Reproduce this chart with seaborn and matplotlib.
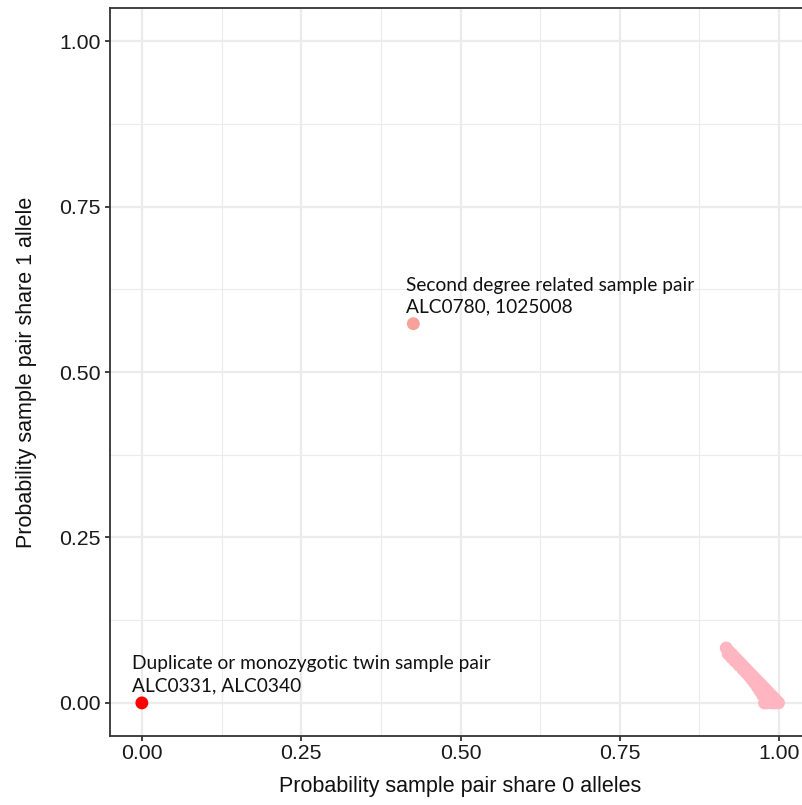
import matplotlib
matplotlib.use("Agg")
import matplotlib.pyplot as plt
from matplotlib.ticker import MultipleLocator
import seaborn as sns
import pandas as pd

# IBD estimates per sample pair: Z0 = P(share 0 alleles), Z1 = P(share 1 allele)
twin_z0 = [0.000]
twin_z1 = [0.000]

second_z0 = [0.426]
second_z1 = [0.573]

unrelated_z0 = [0.917, 0.921, 0.925, 0.928, 0.932, 0.936, 0.939, 0.942, 0.946,
                0.949, 0.952, 0.955, 0.958, 0.961, 0.964, 0.967, 0.970, 0.973,
                0.976, 0.979, 0.982, 0.985, 0.988, 0.991, 0.994, 0.997, 0.999,
                0.920, 0.926, 0.931, 0.937, 0.943, 0.948, 0.953,
                0.957, 0.961, 0.966, 0.970, 0.974, 0.978,
                0.977, 0.981, 0.985, 0.989, 0.993, 0.997, 0.984, 0.990]
unrelated_z1 = [0.083, 0.078, 0.074, 0.071, 0.067, 0.063, 0.060, 0.057, 0.053,
                0.050, 0.047, 0.044, 0.041, 0.038, 0.035, 0.032, 0.029, 0.026,
                0.023, 0.020, 0.017, 0.014, 0.011, 0.008, 0.005, 0.002, 0.000,
                0.074, 0.068, 0.063, 0.057, 0.051, 0.046, 0.041,
                0.036, 0.031, 0.024, 0.018, 0.012, 0.007,
                0.000, 0.000, 0.001, 0.000, 0.000, 0.001, 0.006, 0.004]

groups = ["unrelated", "second", "twin"]
palette = {"unrelated": "#FFB6C1", "second": "#F8A19A", "twin": "#FF0000"}

label_lines = {
    "twin": ["Duplicate or monozygotic twin sample pair", "ALC0331, ALC0340"],
    "second": ["Second degree related sample pair", "ALC0780, 1025008"],
}
label_pos = {"twin": (-0.0157, 0.051), "second": (0.415, 0.623)}
line_step = 0.033

df = pd.concat([
    pd.DataFrame({"z0": unrelated_z0, "z1": unrelated_z1, "group": "unrelated"}),
    pd.DataFrame({"z0": second_z0, "z1": second_z1, "group": "second"}),
    pd.DataFrame({"z0": twin_z0, "z1": twin_z1, "group": "twin"}),
], ignore_index=True)

sns.set_theme(style="white")
plt.rcParams["font.family"] = ["Liberation Sans", "DejaVu Sans"]

fig = plt.figure(figsize=(8.02, 8.05), dpi=100)
# panel runs past the right edge of the canvas
ax = fig.add_axes([110 / 802, 69 / 805, 701 / 802, 728 / 805])

sns.scatterplot(data=df, x="z0", y="z1", hue="group", hue_order=groups,
                palette=palette, s=86, linewidth=0, legend=False, ax=ax,
                zorder=3)

ax.set_xlim(-0.05, 1.05)
ax.set_ylim(-0.05, 1.05)
ax.xaxis.set_major_locator(MultipleLocator(0.25))
ax.yaxis.set_major_locator(MultipleLocator(0.25))
ax.xaxis.set_minor_locator(MultipleLocator(0.125))
ax.yaxis.set_minor_locator(MultipleLocator(0.125))
ax.xaxis.set_major_formatter(lambda v, p: f"{v:.2f}")
ax.yaxis.set_major_formatter(lambda v, p: f"{v:.2f}")

ax.grid(which="major", color="#EBEBEB", linewidth=1.6, zorder=0)
ax.grid(which="minor", color="#EBEBEB", linewidth=0.8, zorder=0)
ax.set_axisbelow(True)

for sp in ax.spines.values():
    sp.set_color("#333333")
    sp.set_linewidth(1.3)

ax.tick_params(which="major", length=3.6, width=1.3, color="#333333",
               labelsize=15.3, labelcolor="#1A1A1A", bottom=True, left=True)
ax.tick_params(axis="x", which="major", pad=2.4)
ax.tick_params(axis="y", which="major", pad=3.4)
ax.tick_params(which="minor", length=0)

ax.set_xlabel("Probability sample pair share 0 alleles", fontsize=15.5,
              color="#111111", labelpad=9)
ax.set_ylabel("Probability sample pair share 1 allele", fontsize=15.5,
              color="#111111", labelpad=16)

for key, lines in label_lines.items():
    x0, y0 = label_pos[key]
    for i, line in enumerate(lines):
        ax.text(x0, y0 - i * line_step, line, fontsize=13.8,
                family=["Lato", "DejaVu Sans"],
                ha="left", va="baseline", color="#111111")

fig.savefig("out.png", dpi=100)
